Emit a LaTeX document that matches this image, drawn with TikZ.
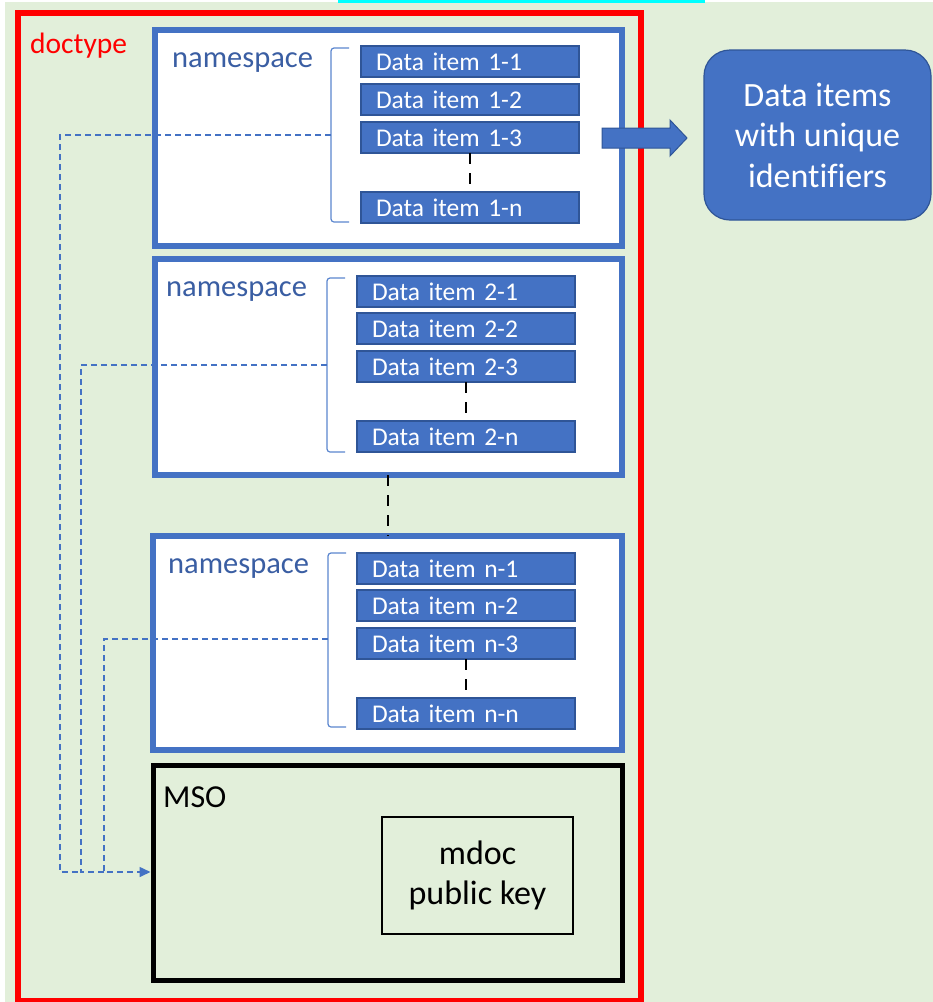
\documentclass[tikz,border=0pt]{standalone}
\usepackage{fontspec}
\setmainfont{Carlito}[Ligatures=NoCommon]
\usetikzlibrary{arrows.meta}

\definecolor{bggreen}{HTML}{E2EFDA}
\definecolor{itemblue}{HTML}{4472C4}
\definecolor{itemedge}{HTML}{2F5597}
\definecolor{nstext}{HTML}{3A5EA3}
\definecolor{bracketblue}{HTML}{5B86CF}
\definecolor{topbar}{HTML}{00FFFF}

\tikzset{
  px/.style={x=1pt,y=-1pt},
  nsbox/.style={draw=itemblue, line width=6pt, fill=white, anchor=north west, inner sep=0pt, outer sep=0pt},
  msobox/.style={draw=black, line width=5pt, anchor=north west, inner sep=0pt, outer sep=0pt},
  keybox/.style={draw=black, line width=2.5pt, anchor=north west, inner sep=0pt, outer sep=0pt},
  itembox/.style={draw=itemedge, line width=1.5pt, fill=itemblue, text=white, anchor=north west,
    text width=188pt, inner xsep=15pt, inner ysep=0pt, outer sep=0pt, minimum height=31pt, align=left,
    font=\fontsize{25.5}{28}\selectfont},
  nslabel/.style={anchor=base west, inner sep=0pt, text=nstext, font=\fontsize{30.5}{34}\selectfont},
  bracket/.style={draw=bracketblue, line width=1.2pt, rounded corners=3pt},
  link/.style={draw=itemblue, line width=1.6pt, dash pattern=on 6pt off 4pt},
  gap/.style={draw=black, line width=2.6pt, dash pattern=on 11pt off 9pt},
  outbox/.style={draw=itemedge, line width=1.2pt, fill=itemblue, rounded corners=26pt, text=white,
    align=center, font=\fontsize{34}{40.5}\selectfont, inner sep=0pt, outer sep=0pt}
}

\begin{document}
\begin{tikzpicture}[px]
  \useasboundingbox (0,0) rectangle (933,1002);
  % page background
  \fill[white] (0,0) rectangle (933,1002);
  \fill[bggreen] (5,2) rectangle (933,1002);
  \fill[topbar] (338,0) rectangle (705,2.5);

  % doctype frame
  \node[draw=red, line width=6pt, anchor=north west, inner sep=0pt, outer sep=0pt,
        minimum width=623pt, minimum height=988.5pt] (doc) at (18,12.5) {};
  \node[anchor=base west, inner sep=0pt, text=red, font=\fontsize{29.5}{34}\selectfont]
        (doclabel) at (30,53) {doctype};

  % namespace containers
  \node[nsbox, minimum width=467pt, minimum height=216pt] (ns1) at (155,30) {};
  \node[nsbox, minimum width=467pt, minimum height=216pt] (ns2) at (155,259) {};
  \node[nsbox, minimum width=469pt, minimum height=214pt] (ns3) at (153,536) {};
  \node[nslabel] (nsl1) at (172,67) {namespace};
  \node[nslabel] (nsl2) at (166,296) {namespace};
  \node[nslabel] (nsl3) at (168,573) {namespace};

  % data items, namespace 1
  \node[itembox] (d11) at (361,46)  {Data item 1-1};
  \node[itembox] (d12) at (361,84)  {Data item 1-2};
  \node[itembox] (d13) at (361,122) {Data item 1-3};
  \node[itembox] (d1n) at (361,192) {Data item 1-n};
  % data items, namespace 2
  \node[itembox] (d21) at (357,276) {Data item 2-1};
  \node[itembox] (d22) at (357,313) {Data item 2-2};
  \node[itembox] (d23) at (357,351) {Data item 2-3};
  \node[itembox] (d2n) at (357,421) {Data item 2-n};
  % data items, namespace n
  \node[itembox] (dn1) at (357,553) {Data item n-1};
  \node[itembox] (dn2) at (357,590) {Data item n-2};
  \node[itembox] (dn3) at (357,628) {Data item n-3};
  \node[itembox] (dnn) at (357,698) {Data item n-n};

  % elided items
  \draw[gap] (d13.south) -- (d1n.north);
  \draw[gap] (d23.south) -- (d2n.north);
  \draw[gap] (dnn.north |- dn3.south) -- (dnn.north);
  \draw[gap] ([xshift=-0.5pt]ns2.south) -- ([xshift=-0.5pt]ns2.south |- ns3.north);

  % brackets grouping the items
  \coordinate (b1) at (331,135);
  \coordinate (b2) at (327,365);
  \coordinate (b3) at (328,639);
  \draw[bracket] (349,48) -| (331,222) -- (349,222);
  \draw[bracket] (345,278) -| (327,452) -- (345,452);
  \draw[bracket] (346,553) -| (328,727) -- (346,727);

  % MSO with key
  \node[msobox, minimum width=469pt, minimum height=215pt] (mso) at (153,765) {};
  \node[anchor=base west, inner sep=0pt, font=\fontsize{32}{38}\selectfont] (msolabel) at (163,807) {MSO};
  \node[keybox, minimum width=191pt, minimum height=117pt] (key) at (382,817) {};
  \node[align=center, inner sep=0pt, font=\fontsize{34}{39.5}\selectfont] (keytext) at (key.center)
        {mdoc\\public key};

  % digests into the MSO
  \coordinate (j1) at (60,872);
  \coordinate (j2) at (81,872);
  \coordinate (j3) at (104,872);
  \draw[link] (b1) -- (b1 -| j1) -- (j1) -- (j2);
  \draw[link] (b2) -- (b2 -| j2) -- (j2) -- (j3);
  \draw[link, -{Triangle[length=11pt,width=10pt]}] (b3) -- (b3 -| j3) -- (j3) -- ([xshift=-2.5pt]mso.west |- j3);

  % output block arrow and result
  \fill[itemblue, draw=itemedge, line width=1pt]
    (602,128) -- (670,128) -- (670,120) -- (687,138) -- (670,156) -- (670,148) -- (602,148) -- cycle;
  \node[outbox, minimum width=227pt, minimum height=170pt] (uid) at (817.5,135)
        {Data items\\with unique\\identifiers};
\end{tikzpicture}
\end{document}
